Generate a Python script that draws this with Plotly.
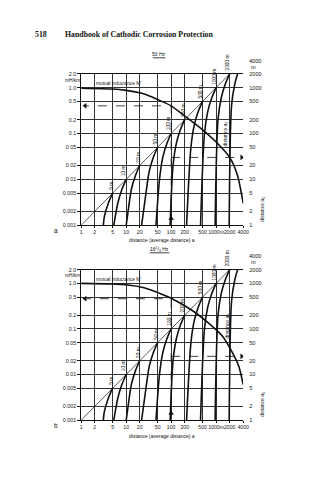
import plotly.graph_objects as go
import numpy as np

# ---------------- data ----------------
x_ticks = [1, 2, 5, 10, 20, 50, 100, 200, 500, 1000, 2000, 4000]
x_ticktext = ["1", "2", "5", "10", "20", "50", "100", "200", "500", "1000m", "2000", "4000"]
y_ticks = [0.001, 0.002, 0.005, 0.01, 0.02, 0.05, 0.1, 0.2, 0.5, 1.0, 2.0]
y_ticktext = ["0.001", "0.002", "0.005", "0.01", "0.02", "0.05", "0.1", "0.2", "0.5", "1.0", "2.0"]
a1_ticks = [1, 2, 5, 10, 20, 50, 100, 200, 500, 1000, 2000]

# mutual inductance M' (mH/km) vs average distance a (m)
m50_a = [1, 5, 10, 20, 30, 50, 100, 200, 500, 1000, 2000, 3000, 4000]
m50_M = [0.97, 0.93, 0.87, 0.77, 0.68, 0.55, 0.40, 0.24, 0.12, 0.065, 0.03, 0.012, 0.003]
m16_a = [1, 5, 10, 25, 50, 100, 300, 700, 1400, 2300, 3200, 4000]
m16_M = [1.0, 0.97, 0.93, 0.80, 0.63, 0.47, 0.25, 0.13, 0.068, 0.03, 0.015, 0.006]

# family of curves: distance a2 (m)
a2_values = [5, 10, 20, 50, 100, 200, 500, 1000, 2000, 4000]
a2_bottom = [3.1, 5.3, 10, 22, 46, 95, 220, 450, 950, 1950]   # a at a1 = 1 m
shape_a1_frac = [0.1, 0.3, 0.6, 1.0]                          # a1 / a2
shape_a_frac = [0.55, 0.65, 0.8, 1.0]                         # a / a2

# worked examples (dashed)
ex50 = dict(a=100, M=0.40, a1=30)
ex16 = dict(a=100, M=0.46, a1=25)

# ---------------- figure ----------------
W, H = 328, 480
def px(x): return x / W
def py(y): return 1 - y / H

fig = go.Figure()
dom_x = [px(82), px(247.5)]
dom_a = [py(225), py(71.7)]
dom_b = [py(422.3), py(270)]

BLK = "#111111"

def add_panel(xa, ya, m_a, m_M, ex):
    for L, b in zip(a2_values, a2_bottom):
        xs = [b]; ys = [1]
        for fa1, fa in zip(shape_a1_frac, shape_a_frac):
            if fa1 * L > 1.05:
                xs.append(fa * L); ys.append(fa1 * L)
        fig.add_trace(go.Scatter(x=xs, y=[v / 1000 for v in ys], mode="lines",
                                 line=dict(color=BLK, width=1.6, shape="spline", smoothing=0.8),
                                 xaxis=xa, yaxis=ya, showlegend=False, hoverinfo="skip", cliponaxis=False))
    fig.add_trace(go.Scatter(x=[1, a2_values[-1]], y=[0.001, a2_values[-1] / 1000], mode="lines",
                             line=dict(color=BLK, width=0.7), xaxis=xa, yaxis=ya,
                             showlegend=False, hoverinfo="skip", cliponaxis=False))
    fig.add_trace(go.Scatter(x=m_a, y=m_M, mode="lines",
                             line=dict(color=BLK, width=1.6, shape="spline", smoothing=0.6),
                             xaxis=xa, yaxis=ya, showlegend=False, hoverinfo="skip"))
    dash = dict(color=BLK, width=0.8, dash="dash")
    fig.add_trace(go.Scatter(x=[ex["a"], ex["a"], 1.25], y=[0.0012, ex["M"], ex["M"]], mode="lines",
                             line=dash, xaxis=xa, yaxis=ya, showlegend=False, hoverinfo="skip"))
    fig.add_trace(go.Scatter(x=[ex["a"], 3600], y=[ex["a1"] / 1000, ex["a1"] / 1000], mode="lines",
                             line=dash, xaxis=xa, yaxis=ya, showlegend=False, hoverinfo="skip"))
    fig.add_trace(go.Scatter(x=[1.22, 3700, ex["a"]], y=[ex["M"], ex["a1"] / 1000, 0.0014],
                             mode="markers", xaxis=xa, yaxis=ya, showlegend=False, hoverinfo="skip",
                             marker=dict(symbol=["triangle-left", "triangle-right", "triangle-up"],
                                         size=5, color=BLK, line=dict(width=0))))
    for L in a2_values:
        fig.add_annotation(x=np.log10(L), y=np.log10(L / 1000), xref=xa, yref=ya,
                           text=f"{L} m", showarrow=False, textangle=-90,
                           font=dict(size=4.8, color=BLK, family="Liberation Sans"),
                           yanchor="bottom", xanchor="center", yshift=1, xshift=-2)

add_panel("x", "y", m50_a, m50_M, ex50)
add_panel("x2", "y2", m16_a, m16_M, ex16)

fig.add_trace(go.Scatter(x=[1], y=[1], xaxis="x", yaxis="y3", mode="markers",
                         marker=dict(opacity=0), showlegend=False, hoverinfo="skip"))
fig.add_trace(go.Scatter(x=[1], y=[1], xaxis="x2", yaxis="y4", mode="markers",
                         marker=dict(opacity=0), showlegend=False, hoverinfo="skip"))

tickfont = dict(size=5.4, color="#222", family="Liberation Sans")
xtickfont = dict(size=5.2, color="#222", family="Liberation Sans")
rtickfont = dict(size=5.6, color="#222", family="Liberation Sans")
grid = dict(showgrid=True, gridcolor="#333333", gridwidth=1.1)
xcommon = dict(type="log", range=[0, np.log10(4000)], tickvals=x_ticks, ticktext=x_ticktext,
               tickangle=0, ticks="outside", ticklen=2, tickcolor=BLK, tickfont=xtickfont, showline=True,
               linecolor=BLK, linewidth=1, mirror=True, zeroline=False, domain=dom_x, **grid)
ycommon = dict(type="log", range=[-3, np.log10(2)], tickvals=y_ticks, ticktext=y_ticktext,
               ticks="outside", ticklen=3, tickcolor=BLK, tickfont=tickfont, showline=True,
               linecolor=BLK, linewidth=1, zeroline=False, **grid)
rcommon = dict(type="log", range=[0, np.log10(2000)], tickvals=a1_ticks,
               ticktext=[str(v) for v in a1_ticks], side="right", ticks="", ticklen=0,
               tickfont=rtickfont, showgrid=False, showline=False, zeroline=False)

fig.update_layout(
    width=W, height=H, margin=dict(l=0, r=0, t=0, b=0),
    paper_bgcolor="white", plot_bgcolor="white", showlegend=False,
    xaxis=dict(anchor="y", **xcommon),
    yaxis=dict(anchor="x", domain=dom_a, **ycommon),
    xaxis2=dict(anchor="y2", **xcommon),
    yaxis2=dict(anchor="x2", domain=dom_b, **ycommon),
    yaxis3=dict(overlaying="y", anchor="x", ticklabelstandoff=5, **rcommon),
    yaxis4=dict(overlaying="y2", anchor="x2", ticklabelstandoff=5, **rcommon),
)

def txt(x, y, s, size=6.5, angle=0, xa="center", ya="middle", family="Liberation Sans"):
    fig.add_annotation(x=px(x), y=py(y), xref="paper", yref="paper", text=s, showarrow=False,
                       textangle=angle, xanchor=xa, yanchor=ya,
                       font=dict(size=size, color=BLK, family=family))

txt(33, 31.5, "<b>518</b>", size=7.8, xa="left", family="Liberation Serif")
txt(63, 31.5, "<b>Handbook of Cathodic Corrosion Protection</b>", size=7.8, xa="left", family="Liberation Serif")

for off, title, lab in [(0, "50 Hz", "a"), (197.5, "16<sup>2</sup>/<sub>3</sub> Hz", "b")]:
    txt(161.5, 52 + off, title, size=5)
    txt(63, 78.5 + off, "mH/km", size=4.8, xa="left")
    txt(95, 82 + off, "mutual inductance M'", size=4.8, xa="left")
    txt(260, 58.5 + off, "4000", size=5.6)
    txt(258, 65 + off, "m", size=5.6)
    txt(267, 209 + off, "distance a<sub>1</sub>", size=5, angle=-90)
    txt(229 + 2 * (off > 0), 133 + off - 3 * (off > 0), "distance a<sub>2</sub>", size=5, angle=-90)
    txt(164, 240.5 + off, "distance (average distance) a", size=5)
    txt(56, 230 + off, lab, size=6.5)

fig.add_shape(type="line", xref="paper", yref="paper", x0=px(155), x1=px(168), y0=py(55.5), y1=py(55.5),
              line=dict(color=BLK, width=0.8))
fig.add_shape(type="line", xref="paper", yref="paper", x0=px(152), x1=px(172), y0=py(253), y1=py(253),
              line=dict(color=BLK, width=0.8))

fig.write_html("out.html")
